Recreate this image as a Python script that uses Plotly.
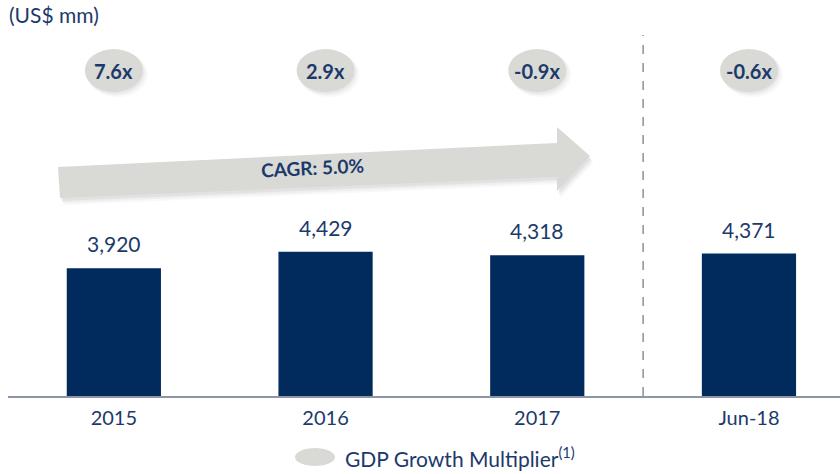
import plotly.graph_objects as go

# Revenue by period (US$ mm) and GDP growth multipliers
periods = ["2015", "2016", "2017", "Jun-18"]
revenue = [3920, 4429, 4318, 4371]
multipliers = ["7.6x", "2.9x", "-0.9x", "-0.6x"]
cagr_label = "CAGR: 5.0%"

W, H = 840, 474
ML, MR, MT, MB = 8, 0, 0, 78
PW, PH = W - ML - MR, H - MT - MB

NAVY = "#002b5c"
TEXT = "#1b3a6b"
GREY = "#d9d9d5"
FONT = "Lato"


def px(x):
    return (x - ML) / PW


def py(y):
    return (H - MB - y) / PH


fig = go.Figure()
fig.add_trace(go.Bar(
    x=list(range(len(periods))), y=revenue,
    marker=dict(color=NAVY, line=dict(width=0)),
    width=0.445, hoverinfo="skip",
))

shapes = []
annotations = []

# value labels above bars
for i, v in enumerate(revenue):
    annotations.append(dict(
        x=i, y=v, xref="x", yref="y", text=f"{v:,}", showarrow=False,
        xanchor="center", yanchor="bottom", yshift=10,
        font=dict(family=FONT, size=21, color=TEXT),
    ))


def shadowed_ellipse(x0, x1, y0, y1, xref, yref, dx, dy):
    # soft drop shadow built from a few faint offset layers
    for k, op in enumerate([0.05, 0.07, 0.09]):
        g = 2 - k
        shapes.append(dict(type="circle", xref=xref, yref=yref,
                           x0=x0 + dx * (g + 1) * 0.5, x1=x1 + dx * (g + 1) * 0.5 + dx * g * 0.5,
                           y0=y0 - dy * (g + 1) * 0.7, y1=y1 - dy * (g + 1) * 0.4,
                           fillcolor="#888888", opacity=op, line=dict(width=0), layer="above"))
    shapes.append(dict(type="circle", xref=xref, yref=yref, x0=x0, x1=x1, y0=y0, y1=y1,
                       fillcolor=GREY, line=dict(width=0), layer="above"))


# multiplier bubbles
hw = 29 / 211.7
for i, m in enumerate(multipliers):
    shadowed_ellipse(i - hw, i + hw, py(92), py(49), "x", "paper", 2 / 211.7, 2.5 / PH)
    annotations.append(dict(
        x=i, y=py(71), xref="x", yref="paper", text=f"<b>{m}</b>", showarrow=False,
        xanchor="center", yanchor="middle",
        font=dict(family=FONT, size=20, color=TEXT),
    ))

# divider between full years and the half-year period
shapes.append(dict(type="line", xref="x", yref="paper", x0=2.5, x1=2.5, y0=0, y1=py(35),
                   line=dict(color="#7f7f7f", width=1.3, dash="dash"), layer="above"))

# growth arrow
arrow_pts = [(58, 167), (557, 143), (557, 127), (590, 156), (557, 191), (557, 177), (60, 198)]


def path_of(pts, dx=0, dy=0):
    s = "M " + " L ".join(f"{px(x + dx):.5f},{py(y + dy):.5f}" for x, y in pts)
    return s + " Z"


for dd, op in [(7, 0.05), (5, 0.07), (3, 0.10)]:
    shapes.append(dict(type="path", xref="paper", yref="paper", path=path_of(arrow_pts, dd * 0.5, dd),
                       fillcolor="#7a7a7a", opacity=op, line=dict(width=0), layer="above"))
shapes.append(dict(type="path", xref="paper", yref="paper", path=path_of(arrow_pts),
                   fillcolor=GREY, line=dict(width=0), layer="above"))
annotations.append(dict(
    x=px(312), y=py(167), xref="paper", yref="paper", text=f"<b>{cagr_label}</b>",
    showarrow=False, textangle=-2.75, xanchor="center", yanchor="middle",
    font=dict(family=FONT, size=19, color=TEXT),
))

# unit label
annotations.append(dict(
    x=px(7), y=py(15), xref="paper", yref="paper", text="(US$ mm)", showarrow=False,
    xanchor="left", yanchor="middle", font=dict(family=FONT, size=21, color=TEXT),
))

# legend entry
shapes.append(dict(type="circle", xref="paper", yref="paper", x0=px(295), x1=px(335),
                   y0=py(466), y1=py(448), fillcolor=GREY, line=dict(width=0)))
annotations.append(dict(
    x=px(343), y=py(457), xref="paper", yref="paper",
    text="GDP Growth Multiplier<sup>(1)</sup>", showarrow=False,
    xanchor="left", yanchor="middle",
    font=dict(family=FONT, size=21, color=TEXT),
))

fig.update_layout(
    width=W, height=H,
    margin=dict(l=ML, r=MR, t=MT, b=MB),
    paper_bgcolor="white", plot_bgcolor="white",
    showlegend=False,
    shapes=shapes, annotations=annotations,
    xaxis=dict(
        range=[-0.5, 3.43], tickvals=list(range(len(periods))), ticktext=periods,
        showgrid=False, zeroline=False, showline=True, linecolor="#8c94a6", linewidth=2,
        ticks="", tickfont=dict(family=FONT, size=20, color=TEXT), fixedrange=True,
        ticklabelstandoff=3,
    ),
    yaxis=dict(range=[0, 12150], visible=False, fixedrange=True),
)

fig.write_html("out.html")
